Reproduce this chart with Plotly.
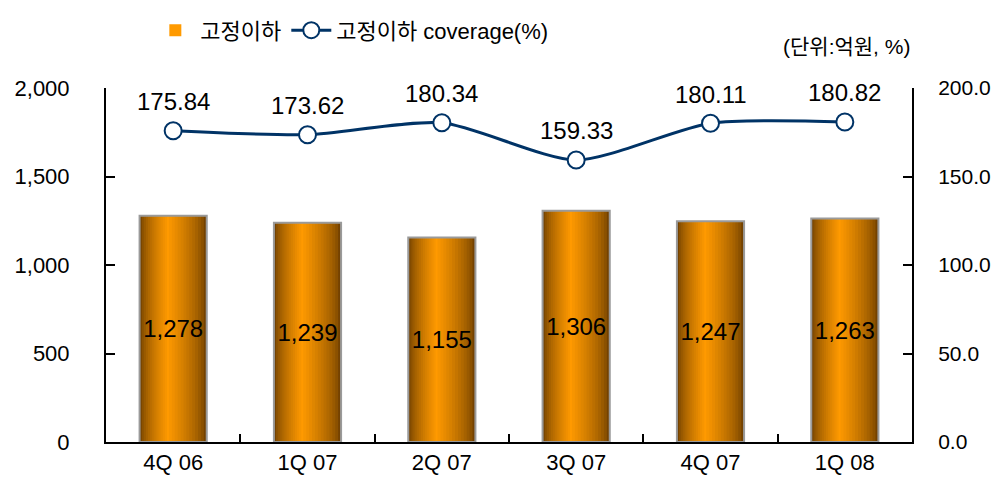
import plotly.graph_objects as go

# 데이터
categories = ['4Q 06', '1Q 07', '2Q 07', '3Q 07', '4Q 07', '1Q 08']
amount = [1278, 1239, 1155, 1306, 1247, 1263]          # 고정이하 (억원)
coverage = [175.84, 173.62, 180.34, 159.33, 180.11, 180.82]  # coverage (%)

left_ticks = [0, 500, 1000, 1500, 2000]
right_ticks = [0, 50, 100, 150, 200]

FONT = "Liberation Sans, Noto Sans CJK KR, sans-serif"
NAVY = '#003366'


def mix(c1, c2, t):
    a = [int(c1[i:i + 2], 16) for i in (1, 3, 5)]
    b = [int(c2[i:i + 2], 16) for i in (1, 3, 5)]
    return '#%02x%02x%02x' % tuple(round(a[k] + (b[k] - a[k]) * t) for k in range(3))


fig = go.Figure()

# 막대 그라데이션 (겹쳐 그린 막대)
W = 0.5
peak = 0.42  # 가장 밝은 위치 (왼쪽에서 비율)
n = 14
for k in range(n):
    t = k / (n - 1)
    left = -W / 2 + t * peak * W * 0.97
    right = W / 2 - t * (1 - peak) * W * 0.97
    fig.add_trace(go.Bar(
        x=categories, y=amount,
        width=[right - left] * len(categories),
        offset=[left] * len(categories),
        marker=dict(color=mix('#744200', '#ff9a00', t ** 0.7), line=dict(width=0)),
        name='고정이하',
        showlegend=(k == n - 1),
        legendrank=1,
        hoverinfo='skip',
        yaxis='y',
    ))

# 테두리 + 값 라벨
fig.add_trace(go.Bar(
    x=categories, y=amount,
    width=[W] * len(categories),
    marker=dict(color='rgba(0,0,0,0)', line=dict(color='#9a9a9a', width=2)),
    text=[f'{v:,}' for v in amount],
    textposition='inside',
    insidetextanchor='middle',
    textangle=0,
    constraintext='none',
    textfont=dict(size=24, color='black', family=FONT),
    showlegend=False,
    hoverinfo='skip',
    yaxis='y',
))

fig.add_trace(go.Scatter(
    x=categories, y=coverage,
    mode='lines+markers',
    line=dict(color=NAVY, width=3, shape='spline', smoothing=0.7),
    marker=dict(size=17, color='white', line=dict(color=NAVY, width=2)),
    name='고정이하 coverage(%)',
    legendrank=2,
    yaxis='y2',
))

for c, v in zip(categories, coverage):
    fig.add_annotation(x=c, y=v, yref='y2', text=f'{v:.2f}', showarrow=False,
                       yshift=29, font=dict(size=24, color='black', family=FONT))

fig.add_annotation(x=1.0, y=1.116, xref='paper', yref='paper', xanchor='right',
                   yanchor='middle', text='(단위:억원, %)', showarrow=False,
                   font=dict(size=21, color='black', family=FONT))

# 페이지 기본 여백(8px)을 고려한 크기
fig.update_layout(
    barmode='overlay',
    width=991, height=477,
    margin=dict(l=98, r=87, t=80, b=43, autoexpand=False),
    paper_bgcolor='white', plot_bgcolor='white',
    font=dict(family=FONT, size=21, color='black'),
    showlegend=True,
    legend=dict(orientation='h', x=0.055, y=1.222, xanchor='left', yanchor='top',
                font=dict(size=22), bgcolor='rgba(0,0,0,0)', itemwidth=40,
                traceorder='normal'),
    xaxis=dict(showline=True, linecolor='black', linewidth=2, ticks='inside',
               tickson='boundaries', ticklen=8, tickcolor='black', tickwidth=2,
               showgrid=False, tickfont=dict(size=22)),
    yaxis=dict(range=[0, 2000], tickvals=left_ticks, tickformat=',', showline=True,
               linecolor='black', linewidth=2, ticks='inside', ticklen=9,
               tickcolor='black', tickwidth=2, showgrid=False, zeroline=False,
               ticklabelstandoff=30, tickfont=dict(size=22)),
    yaxis2=dict(range=[0, 200], tickvals=right_ticks, tickformat='.1f', overlaying='y',
                side='right', showline=True, linecolor='black', linewidth=2,
                ticks='inside', ticklen=9, tickcolor='black', tickwidth=2,
                showgrid=False, zeroline=False, ticklabelstandoff=20,
                tickfont=dict(size=21)),
)

fig.write_html("out.html")
